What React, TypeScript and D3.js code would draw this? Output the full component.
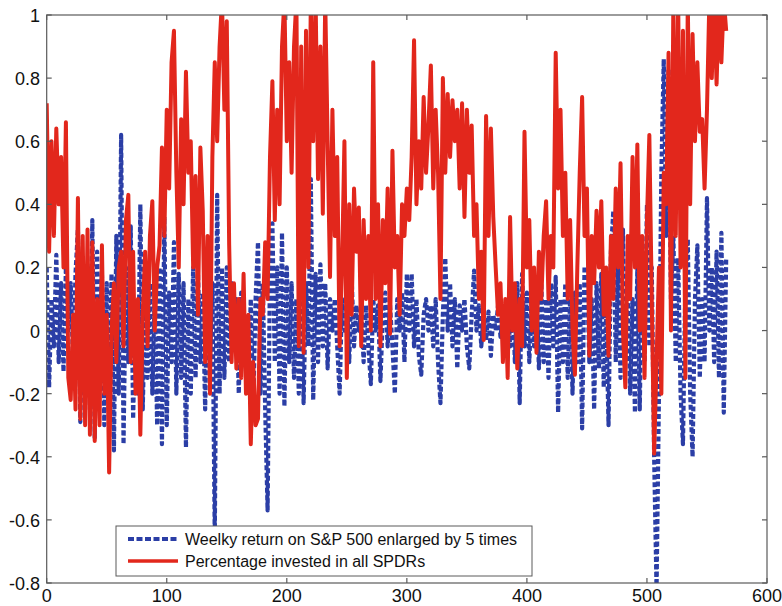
import React from "react";
import * as d3 from "d3";

// Weekly samples are stored every second week.
const WEEK_STEP = 2;

const X_TICKS = [0, 100, 200, 300, 400, 500, 600];
const Y_TICKS = [-0.8, -0.6, -0.4, -0.2, 0, 0.2, 0.4, 0.6, 0.8, 1];

const SERIES_NAMES = [
  "Weelky return on S&P 500 enlarged by 5 times",
  "Percentage invested in all SPDRs",
];

// Weekly S&P 500 return, multiplied by 5
const sp500Weekly5x = [
  0.2, -0.18, 0.1, -0.05, 0.24, -0.1, 0.15, -0.13, 0.2, 0.0,
  0.15, -0.1, 0.18, 0.32, -0.29, 0.1, -0.2, 0.2, -0.25, 0.35,
  -0.34, 0.25, -0.15, 0.18, -0.3, 0.15, -0.2, 0.18, -0.38, 0.3,
  -0.2, 0.62, -0.36, 0.2, -0.1, 0.33, -0.28, 0.1, -0.2, 0.4,
  -0.25, 0.1, -0.15, 0.15, -0.2, 0.12, -0.3, 0.2, -0.36, 0.36,
  -0.3, 0.12, -0.1, 0.28, -0.2, 0.18, -0.15, 0.15, -0.37, 0.1,
  -0.2, 0.2, -0.15, 0.18, -0.1, 0.12, -0.25, 0.2, -0.1, 0.15,
  -0.66, 0.43, -0.2, 0.2, -0.15, 0.2, -0.1, 0.15, -0.05, 0.1,
  -0.2, 0.12, -0.1, 0.05, -0.15, 0.1, -0.25, 0.1, 0.28, -0.2,
  0.15, -0.25, -0.57, 0.2, 0.34, -0.1, 0.2, -0.2, 0.31, -0.24,
  0.2, -0.1, 0.15, -0.15, 0.1, -0.2, 0.12, -0.23, 0.15, -0.05,
  0.48, -0.22, 0.18, -0.1, 0.21, -0.05, 0.15, -0.12, 0.1, 0.0,
  0.1, -0.05, -0.2, 0.1, 0.0, 0.12, -0.1, 0.17, -0.05, 0.08,
  0.0, 0.06, -0.1, 0.08, -0.05, -0.17, 0.1, 0.0, 0.08, -0.16,
  0.05, 0.12, -0.05, 0.08, -0.05, -0.2, 0.1, 0.0, 0.12, -0.1,
  0.18, 0.0, 0.18, -0.05, 0.1, -0.08, -0.14, 0.05, 0.1, 0.0,
  0.08, -0.05, 0.1, -0.1, -0.23, 0.05, 0.23, 0.0, 0.15, -0.05,
  0.1, -0.12, 0.08, 0.0, 0.1, -0.05, -0.12, 0.05, 0.19, 0.0,
  0.08, -0.05, 0.05, -0.03, 0.06, -0.08, 0.05, 0.0, 0.08, -0.02,
  0.05, 0.0, 0.1, -0.05, 0.12, -0.1, 0.15, -0.23, 0.18, -0.05,
  0.12, -0.1, 0.1, -0.05, 0.12, -0.12, 0.15, -0.1, 0.1, -0.15,
  0.15, -0.05, 0.17, -0.26, 0.1, -0.1, 0.15, -0.15, 0.1, -0.2,
  0.12, -0.1, 0.15, -0.31, 0.2, 0.2, -0.1, 0.1, -0.25, 0.15,
  -0.12, 0.18, -0.18, 0.05, -0.3, 0.25, 0.38, -0.1, 0.2, -0.15,
  0.32, -0.1, 0.15, -0.2, 0.1, -0.26, 0.2, -0.25, 0.25, -0.1,
  0.4, -0.05, 0.2, -0.4, -0.82, -0.2, 0.5, 0.86, 0.3, 0.83,
  0.1, 0.3, -0.1, 0.23, -0.2, -0.36, 0.15, 0.29, -0.2, -0.4,
  0.1, 0.27, -0.15, 0.1, -0.1, 0.42, 0.0, 0.2, -0.1, 0.25,
  -0.15, 0.31, -0.26, 0.23,
];

// Share of the portfolio invested across all SPDRs
const investedSPDR = [
  0.72, 0.25, 0.6, 0.3, 0.64, 0.4, 0.55, 0.2, 0.66, -0.15,
  -0.22, 0.05, -0.25, 0.42, -0.28, 0.3, -0.3, 0.32, -0.33, 0.28,
  -0.35, 0.1, -0.3, 0.27, -0.2, 0.05, -0.45, 0.0, 0.15, -0.1,
  0.2, 0.25, -0.05, 0.35, 0.43, -0.1, 0.25, -0.2, 0.1, -0.33,
  0.05, 0.25, -0.05, 0.3, 0.41, 0.0, 0.2, 0.27, 0.58, 0.3,
  0.7, 0.45, 0.85, 0.95, 0.5, 0.2, 0.67, 0.4, 0.82, 0.5,
  0.6, 0.2, 0.49, 0.05, 0.58, 0.38, -0.1, 0.3, -0.2, 0.55,
  0.85, 0.6, 0.9, 1.05, 0.7, 0.98, 0.27, -0.1, 0.15, -0.12,
  0.1, -0.15, 0.18, -0.2, 0.05, -0.36, -0.1, -0.3, -0.28, 0.1,
  0.05, 0.28, 0.1, 0.55, 0.79, 0.35, 0.7, 0.4, 0.9, 1.05,
  0.6, 0.85, 0.5, 0.9, 1.05, -0.05, 0.9, -0.07, 0.95, 0.2,
  1.05, 0.6, 1.05, 0.48, 0.9, 0.37, 1.05, 0.6, 0.17, 0.7,
  0.3, 0.55, -0.05, 0.2, 0.6, -0.15, 0.4, 0.05, 0.45, 0.25,
  0.39, -0.05, 0.35, 0.1, 0.3, 0.0, 0.85, 0.1, 0.4, -0.05,
  0.35, 0.15, 0.45, -0.01, 0.57, 0.2, 0.3, 0.05, 0.4, 0.3,
  0.45, 0.35, 0.55, 0.92, 0.4, 0.6, 0.45, 0.74, 0.5, 0.65,
  0.84, 0.45, 0.7, 0.5, 0.1, 0.8, 0.5, 0.75, 0.55, 0.73,
  0.6, 0.7, 0.45, 0.72, 0.36, 0.7, 0.5, 0.65, 0.3, 0.4,
  0.1, 0.25, -0.03, 0.68, 0.3, 0.64, 0.36, 0.2, 0.05, 0.15,
  -0.1, 0.1, -0.15, 0.36, 0.0, 0.15, -0.12, 0.1, -0.05, 0.63,
  0.2, 0.35, 0.0, 0.2, -0.07, 0.25, 0.1, 0.3, 0.41, 0.1,
  0.3, 0.2, 0.88, 0.45, 0.7, 0.3, 0.5, 0.1, 0.35, 0.0,
  -0.14, 0.2, 0.5, 0.74, 0.3, 0.45, -0.08, 0.3, 0.15, 0.38,
  0.2, 0.41, 0.05, 0.2, -0.08, 0.3, 0.1, 0.45, 0.2, 0.53,
  0.0, -0.18, 0.3, 0.1, 0.55, 0.2, 0.59, 0.0, 0.3, -0.15,
  0.35, 0.62, 0.1, -0.39, -0.1, 0.2, -0.2, 0.5, 0.4, 0.88,
  0.0, 1.05, 0.3, 1.05, 0.2, 0.95, -0.15, 1.05, 0.4, 0.94,
  0.6, 0.85, 0.63, 0.67, 0.45, 0.7, 1.05, 0.8, 1.05, 0.78,
  1.05, 0.85, 1.05, 0.95,
];

const BLUE = "#2b3ea6";
const RED = "#e2271c";
const AXIS = "#5a5a5a";
const FONT = "'Liberation Sans', Arial, Helvetica, sans-serif";

export default function App() {
  const width = 782;
  const height = 606;
  const plot = { left: 46.7, right: 767, top: 15, bottom: 583 };

  const x = d3.scaleLinear().domain([0, 600]).range([plot.left, plot.right]);
  const y = d3.scaleLinear().domain([-0.8, 1]).range([plot.bottom, plot.top]);

  const line = d3
    .line<number>()
    .x((_, i) => x(i * WEEK_STEP))
    .y((d) => y(d));

  const tickLen = 5;
  const legend = { x: 116, y: 526, w: 416, h: 50 };

  return (
    <div style={{ position: "absolute", left: 0, top: 0 }}>
      <svg width={width} height={height} style={{ display: "block", background: "#fff" }}>
        <defs>
          <clipPath id="plot-area">
            <rect x={plot.left} y={plot.top} width={plot.right - plot.left} height={plot.bottom - plot.top} />
          </clipPath>
        </defs>

        <g clipPath="url(#plot-area)">
          <path
            d={line(sp500Weekly5x) ?? ""}
            fill="none"
            stroke={BLUE}
            strokeWidth={4.2}
            strokeDasharray="5 2.5"
            strokeLinejoin="round"
          />
          <path
            d={line(investedSPDR) ?? ""}
            fill="none"
            stroke={RED}
            strokeWidth={4}
            strokeLinejoin="round"
          />
        </g>

        {/* axes box */}
        <rect
          x={plot.left}
          y={plot.top}
          width={plot.right - plot.left}
          height={plot.bottom - plot.top}
          fill="none"
          stroke={AXIS}
          strokeWidth={1.2}
        />

        {/* x ticks, bottom and top */}
        {X_TICKS.map((t) => (
          <g key={`x${t}`}>
            <line x1={x(t)} x2={x(t)} y1={plot.bottom} y2={plot.bottom - tickLen} stroke={AXIS} strokeWidth={1.2} />
            <line x1={x(t)} x2={x(t)} y1={plot.top} y2={plot.top + tickLen} stroke={AXIS} strokeWidth={1.2} />
            <text
              x={x(t)}
              y={602}
              textAnchor="middle"
              fontFamily={FONT}
              fontSize={18}
              fill="#111"
            >
              {t}
            </text>
          </g>
        ))}

        {/* y ticks, left and right */}
        {Y_TICKS.map((t) => (
          <g key={`y${t}`}>
            <line x1={plot.left} x2={plot.left + tickLen} y1={y(t)} y2={y(t)} stroke={AXIS} strokeWidth={1.2} />
            <line x1={plot.right} x2={plot.right - tickLen} y1={y(t)} y2={y(t)} stroke={AXIS} strokeWidth={1.2} />
            <text
              x={40}
              y={y(t) + 7}
              textAnchor="end"
              fontFamily={FONT}
              fontSize={18}
              fill="#111"
            >
              {String(t)}
            </text>
          </g>
        ))}

        {/* legend */}
        <g>
          <rect x={legend.x} y={legend.y} width={legend.w} height={legend.h} fill="#fff" stroke={AXIS} strokeWidth={1} />
          <line
            x1={legend.x + 12}
            x2={legend.x + 62}
            y1={legend.y + 13}
            y2={legend.y + 13}
            stroke={BLUE}
            strokeWidth={3.8}
            strokeDasharray="6 2.5"
          />
          <text x={legend.x + 69} y={legend.y + 19} fontFamily={FONT} fontSize={16} fill="#111">
            {SERIES_NAMES[0]}
          </text>
          <line
            x1={legend.x + 12}
            x2={legend.x + 62}
            y1={legend.y + 35}
            y2={legend.y + 35}
            stroke={RED}
            strokeWidth={3.5}
          />
          <text x={legend.x + 69} y={legend.y + 41} fontFamily={FONT} fontSize={16} fill="#111">
            {SERIES_NAMES[1]}
          </text>
        </g>
      </svg>
    </div>
  );
}
